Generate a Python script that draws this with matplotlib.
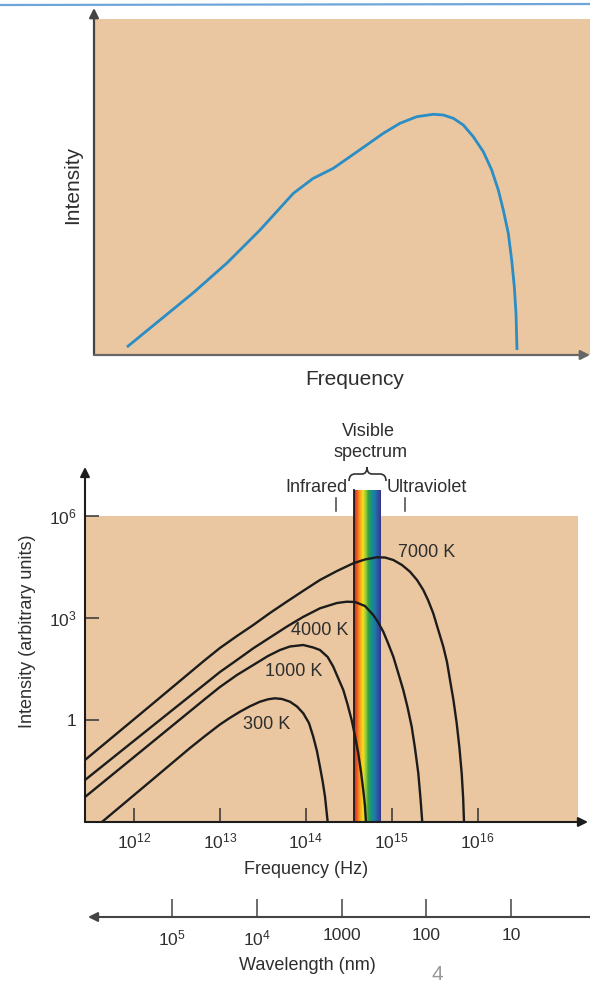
import numpy as np
import matplotlib
matplotlib.use('Agg')
import matplotlib.pyplot as plt
from matplotlib.path import Path
from matplotlib.patches import PathPatch, Rectangle
from matplotlib.colors import LinearSegmentedColormap
from matplotlib.lines import Line2D

plt.rcParams['font.family'] = ['Liberation Sans', 'DejaVu Sans']
plt.rcParams['mathtext.fontset'] = 'custom'
plt.rcParams['mathtext.rm'] = 'Liberation Sans'
plt.rcParams['mathtext.it'] = 'Liberation Sans:italic'
plt.rcParams['mathtext.bf'] = 'Liberation Sans:bold'

# ---------------- data: top panel (arbitrary units, 0-100) ----------------
top_freq = [6.65, 13.31, 19.96, 26.81, 33.47, 40.18, 44.15, 48.25, 51.61, 54.98,
            58.33, 61.69, 65.06, 68.41, 70.42, 72.44, 74.46, 76.47, 78.49, 80.18,
            81.51, 82.52, 83.53, 84.21, 84.74, 85.08, 85.28]
top_intensity = [2.38, 10.42, 18.45, 27.38, 37.20, 48.10, 52.53, 55.57, 59.02, 62.50,
                 65.98, 68.96, 70.92, 71.64, 71.43, 70.45, 68.45, 64.97, 60.51, 55.06,
                 49.11, 43.15, 36.22, 28.27, 20.33, 12.41, 1.49]

# ---------------- data: bottom panel (log10 values) ----------------
logf_7000 = [11.430, 12.186, 12.827, 13.001, 13.199, 13.389, 13.583, 13.778, 13.967,
             14.165, 14.363, 14.553, 14.689, 14.825, 14.922, 15.019, 15.120, 15.213,
             15.295, 15.368, 15.423, 15.484, 15.539, 15.601, 15.644, 15.679, 15.719,
             15.757, 15.789, 15.815, 15.832, 15.842]
logI_7000 = [-1.176, 0.412, 1.765, 2.118, 2.471, 2.794, 3.147, 3.479, 3.794,
             4.118, 4.382, 4.609, 4.721, 4.785, 4.779, 4.706, 4.559, 4.362,
             4.118, 3.824, 3.529, 3.138, 2.676, 2.156, 1.706, 1.176, 0.588,
             -0.097, -0.824, -1.568, -2.294, -3.000]

logf_4000 = [11.430, 12.186, 12.827, 13.001, 13.199, 13.389, 13.583, 13.778, 13.967,
             14.165, 14.363, 14.476, 14.573, 14.689, 14.786, 14.840, 14.902, 14.957,
             15.019, 15.073, 15.135, 15.184, 15.233, 15.271, 15.310, 15.335, 15.356]
logI_4000 = [-1.765, -0.235, 1.059, 1.412, 1.765, 2.109, 2.426, 2.744, 3.029,
             3.285, 3.441, 3.479, 3.471, 3.353, 3.088, 2.882, 2.597, 2.265,
             1.862, 1.412, 0.882, 0.382, -0.197, -0.824, -1.568, -2.294, -3.000]

logf_1000 = [11.430, 12.186, 12.827, 13.001, 13.199, 13.389, 13.560, 13.700, 13.816,
             13.971, 14.087, 14.165, 14.255, 14.320, 14.363, 14.437, 14.485, 14.534,
             14.573, 14.611, 14.643, 14.669, 14.689, 14.701]
logI_1000 = [-2.265, -0.706, 0.618, 0.971, 1.324, 1.618, 1.882, 2.059, 2.162,
             2.206, 2.132, 2.059, 1.853, 1.568, 1.315, 0.882, 0.471, 0.000,
             -0.471, -0.979, -1.529, -2.059, -2.529, -3.000]

logf_300 = [11.627, 12.186, 12.652, 12.827, 13.001, 13.118, 13.234, 13.350, 13.467,
            13.560, 13.641, 13.723, 13.816, 13.898, 13.971, 14.037, 14.087, 14.130,
            14.165, 14.197, 14.224, 14.255]
logI_300 = [-3.000, -1.815, -0.824, -0.471, -0.132, 0.065, 0.244, 0.403, 0.538,
            0.609, 0.638, 0.618, 0.538, 0.397, 0.197, -0.088, -0.491, -0.912,
            -1.374, -1.815, -2.256, -3.000]

curve_labels = ['7000 K', '4000 K', '1000 K', '300 K']
label_logf = [15.408, 14.157, 13.855, 13.545]
label_logI = [4.921, 2.626, 1.441, -0.147]

freq_ticks = [1e12, 1e13, 1e14, 1e15, 1e16]
freq_tick_labels = [r'$10^{12}$', r'$10^{13}$', r'$10^{14}$', r'$10^{15}$', r'$10^{16}$']
int_ticks = [1e6, 1e3, 1]
int_tick_labels = [r'$10^{6}$', r'$10^{3}$', '1']
wl_ticks = [1e5, 1e4, 1e3, 1e2, 10]
wl_tick_labels = [r'$10^{5}$', r'$10^{4}$', '1000', '100', '10']

visible_band = [3.64e14, 7.5e14]
band_colors = ['#d8262a', '#ef5a24', '#f7a21b', '#f6e51a', '#8cc63f', '#2f9e48',
               '#12908c', '#1f77a8', '#2f56a0', '#33378a']

# ---------------- figure ----------------
W, H = 590, 982
fig = plt.figure(figsize=(W / 100, H / 100), dpi=100)
TAN = '#EAC7A0'
TXT = '#2e2e2e'


def fx(x):
    return x / W


def fy(y):
    return 1 - y / H


# top decorative blue line
fig.add_artist(Line2D([0, 1], [fy(5), fy(4)], color='#6fa6da', lw=1.6))

# ---------------- top panel ----------------
ax1 = fig.add_axes([fx(94), fy(355), (590 - 94) / W, (355 - 19) / H])
ax1.set_facecolor(TAN)
ax1.set_xlim(0, 100)
ax1.set_ylim(0, 100)
ax1.set_xticks([])
ax1.set_yticks([])
for s in ax1.spines.values():
    s.set_visible(False)
ax1.plot(top_freq, top_intensity, color='#2a8dc5', lw=2.0, solid_joinstyle='round',
         solid_capstyle='butt')
arrow_kw = dict(arrowstyle='-|>', color='#444444', lw=1.6, mutation_scale=14,
                shrinkA=0, shrinkB=0)
ax1.annotate('', xy=(0, (355 - 8) / 336), xytext=(0, 0), xycoords='axes fraction',
             arrowprops=arrow_kw, annotation_clip=False)
ax1.annotate('', xy=(1.0, 0), xytext=(0, 0), xycoords='axes fraction',
             arrowprops=dict(arrow_kw, color='#666666'), annotation_clip=False)
fig.text(fx(355), fy(380), 'Frequency', ha='center', va='center', fontsize=15, color=TXT)
fig.text(fx(73), fy(185), 'Intensity', ha='center', va='center', fontsize=15,
         color=TXT, rotation=90)

# ---------------- bottom panel ----------------
ax2 = fig.add_axes([fx(85), fy(822), (578 - 85) / W, 306 / H])
ax2.set_facecolor(TAN)
ax2.set_xscale('log')
ax2.set_yscale('log')
ax2.set_xlim(10 ** 11.430, 10 ** 17.169)
ax2.set_ylim(1e-3, 1e6)
for s in ax2.spines.values():
    s.set_visible(False)
ax2.set_xticks(freq_ticks, freq_tick_labels)
ax2.set_yticks(int_ticks, int_tick_labels)
ax2.minorticks_off()
ax2.tick_params(axis='both', direction='in', length=10, width=1.1, color='#333333',
                labelsize=12.5, labelcolor=TXT)
ax2.tick_params(axis='x', pad=7)
ax2.tick_params(axis='y', pad=6)

# visible band
cmap = LinearSegmentedColormap.from_list('vis', band_colors)
nb = 60
edges = np.logspace(np.log10(visible_band[0]), np.log10(visible_band[1]), nb + 1)
band_top = 10 ** 6.765
for i in range(nb):
    ax2.add_patch(Rectangle((edges[i], 1e-3), edges[i + 1] - edges[i], band_top - 1e-3,
                            facecolor=cmap(i / (nb - 1)), edgecolor='none', lw=0,
                            clip_on=False, zorder=1))
ax2.plot([visible_band[0], visible_band[0]], [1e-3, band_top], color='#1a1a1a', lw=1.3,
         clip_on=False, zorder=2)

for lf, li in [(logf_7000, logI_7000), (logf_4000, logI_4000),
               (logf_1000, logI_1000), (logf_300, logI_300)]:
    ax2.plot(10 ** np.array(lf), 10 ** np.array(li), color='#1c1c1c', lw=1.7,
             solid_joinstyle='round', zorder=3)
for t, lf, li in zip(curve_labels, label_logf, label_logI):
    ax2.text(10 ** lf, 10 ** li, t, ha='center', va='center', fontsize=13, color=TXT,
             zorder=4)

arrow_k2 = dict(arrowstyle='-|>', color='#1c1c1c', lw=1.5, mutation_scale=14,
                shrinkA=0, shrinkB=0)
ax2.annotate('', xy=(0, (822 - 467) / 306), xytext=(0, 0), xycoords='axes fraction',
             arrowprops=arrow_k2, annotation_clip=False)
ax2.annotate('', xy=((588 - 85) / 493, 0), xytext=(0, 0), xycoords='axes fraction',
             arrowprops=arrow_k2, annotation_clip=False)

fig.text(fx(306), fy(869), 'Frequency (Hz)', ha='center', va='center', fontsize=13,
         color=TXT)
fig.text(fx(28), fy(631), 'Intensity (arbitrary units)', ha='center', va='center',
         fontsize=13, color=TXT, rotation=90)

# annotations above band
fig.text(fx(368), fy(432), 'Visible', ha='center', va='center', fontsize=13, color=TXT)
fig.text(fx(370), fy(453), 'spectrum', ha='center', va='center', fontsize=13, color=TXT)
fig.text(fx(347), fy(488), 'Infrared', ha='right', va='center', fontsize=13, color=TXT)
fig.text(fx(387), fy(488), 'Ultraviolet', ha='left', va='center', fontsize=13, color=TXT)
for xx in (336, 405):
    fig.add_artist(Line2D([fx(xx), fx(xx)], [fy(498), fy(511)], color='#444444', lw=1.1))

brace_px = [(349, 481), (349, 474), (355, 474), (362, 474), (367, 474), (367, 467),
            (367, 474), (372, 474), (380, 474), (386, 474), (386, 481)]
codes = [Path.MOVETO, Path.CURVE3, Path.CURVE3, Path.LINETO, Path.CURVE3, Path.CURVE3,
         Path.CURVE3, Path.CURVE3, Path.LINETO, Path.CURVE3, Path.CURVE3]
brace = Path([(fx(a), fy(b)) for a, b in brace_px], codes)
fig.add_artist(PathPatch(brace, facecolor='none', edgecolor='#333333', lw=1.2,
                         transform=fig.transFigure))

# ---------------- wavelength axis ----------------
ax3 = fig.add_axes([fx(88), fy(917), (590 - 88) / W, 0.0005])
ax3.set_xscale('log')
ax3.set_xlim(10 ** 5.991, 10 ** 0.068)
ax3.patch.set_visible(False)
for s in ax3.spines.values():
    s.set_visible(False)
ax3.set_yticks([])
ax3.set_xticks(wl_ticks, wl_tick_labels)
ax3.minorticks_off()
ax3.tick_params(axis='x', direction='in', length=13, width=1.1, color='#444444',
                labelsize=12.5, labelcolor=TXT, pad=8)
ax3.annotate('', xy=(0, 0), xytext=(1, 0), xycoords='axes fraction',
             arrowprops=dict(arrowstyle='-|>', color='#444444', lw=1.5, mutation_scale=14,
                             shrinkA=0, shrinkB=0), annotation_clip=False)
fig.text(fx(307), fy(965), 'Wavelength (nm)', ha='center', va='center', fontsize=13,
         color=TXT)
fig.text(fx(437), fy(974), '4', ha='center', va='center', fontsize=15, color='#9a9a9a')

fig.savefig('out.png', dpi=100)
